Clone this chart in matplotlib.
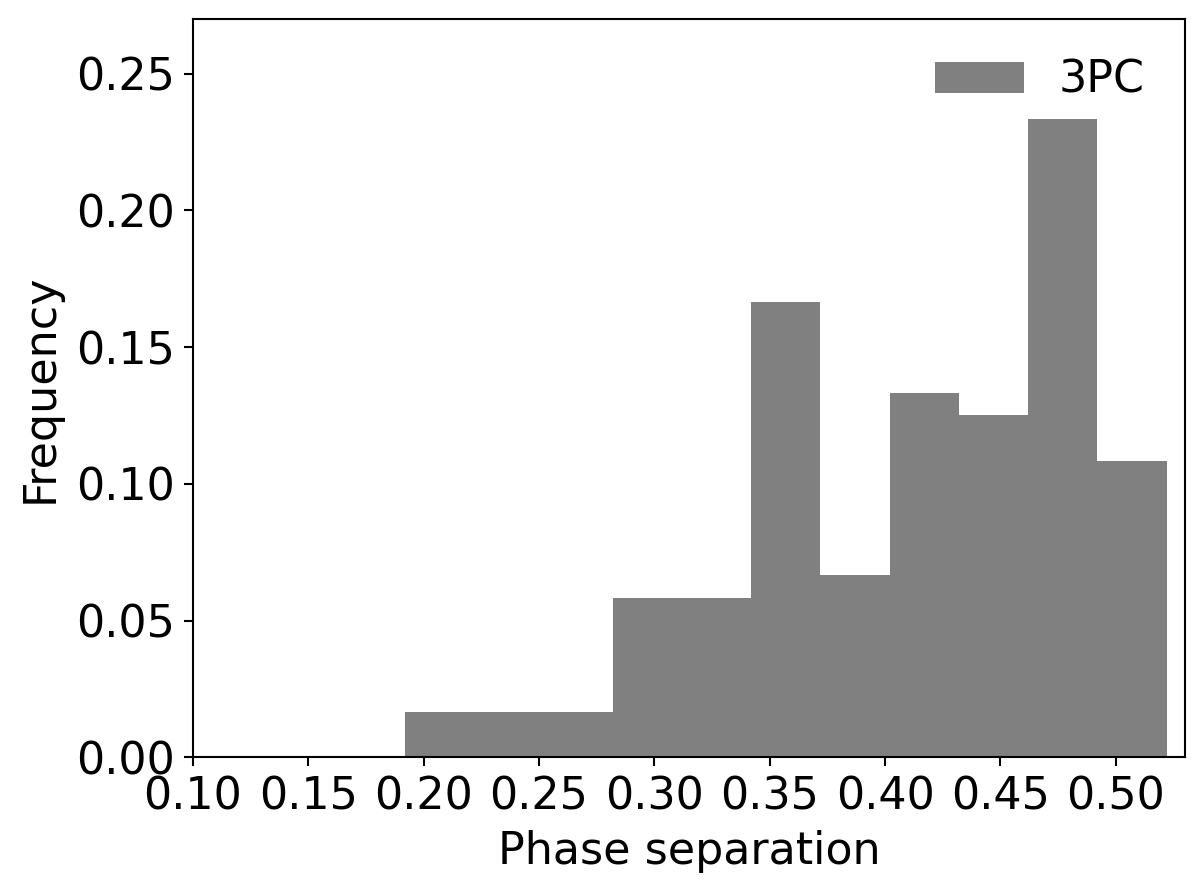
import matplotlib
matplotlib.use("Agg")
import matplotlib.pyplot as plt
import numpy as np

bin_edges = [0.192, 0.222, 0.252, 0.282, 0.312, 0.342, 0.372, 0.402, 0.432, 0.462, 0.492, 0.522]
frequencies = [0.01667, 0.01667, 0.01667, 0.05833, 0.05833, 0.16667, 0.06667, 0.13333, 0.125, 0.23333, 0.10833]
series_label = "3PC"
xticks = [0.10, 0.15, 0.20, 0.25, 0.30, 0.35, 0.40, 0.45, 0.50]
yticks = [0.00, 0.05, 0.10, 0.15, 0.20, 0.25]

dpi = 188
fig = plt.figure(figsize=(1204 / dpi, 895 / dpi), dpi=dpi)
ax = fig.add_axes([193 / 1204, (895 - 757.3) / 895, (1185 - 193) / 1204, (757.3 - 19) / 895])

ax.hist(bin_edges[:-1], bins=bin_edges, weights=frequencies, color="gray", label=series_label)

ax.set_xlim(0.10, 0.53)
ax.set_ylim(0, 0.27)
ax.set_xticks(xticks)
ax.set_xticklabels([f"{t:.2f}" for t in xticks])
ax.set_yticks(yticks)
ax.set_yticklabels([f"{t:.2f}" for t in yticks])
ax.tick_params(labelsize=17)
ax.set_xlabel("Phase separation", fontsize=17, labelpad=4.5)
ax.set_ylabel("Frequency", fontsize=17, labelpad=5.5)
ax.legend(frameon=False, fontsize=17, loc="upper right")

fig.savefig("out.png", dpi=dpi)
